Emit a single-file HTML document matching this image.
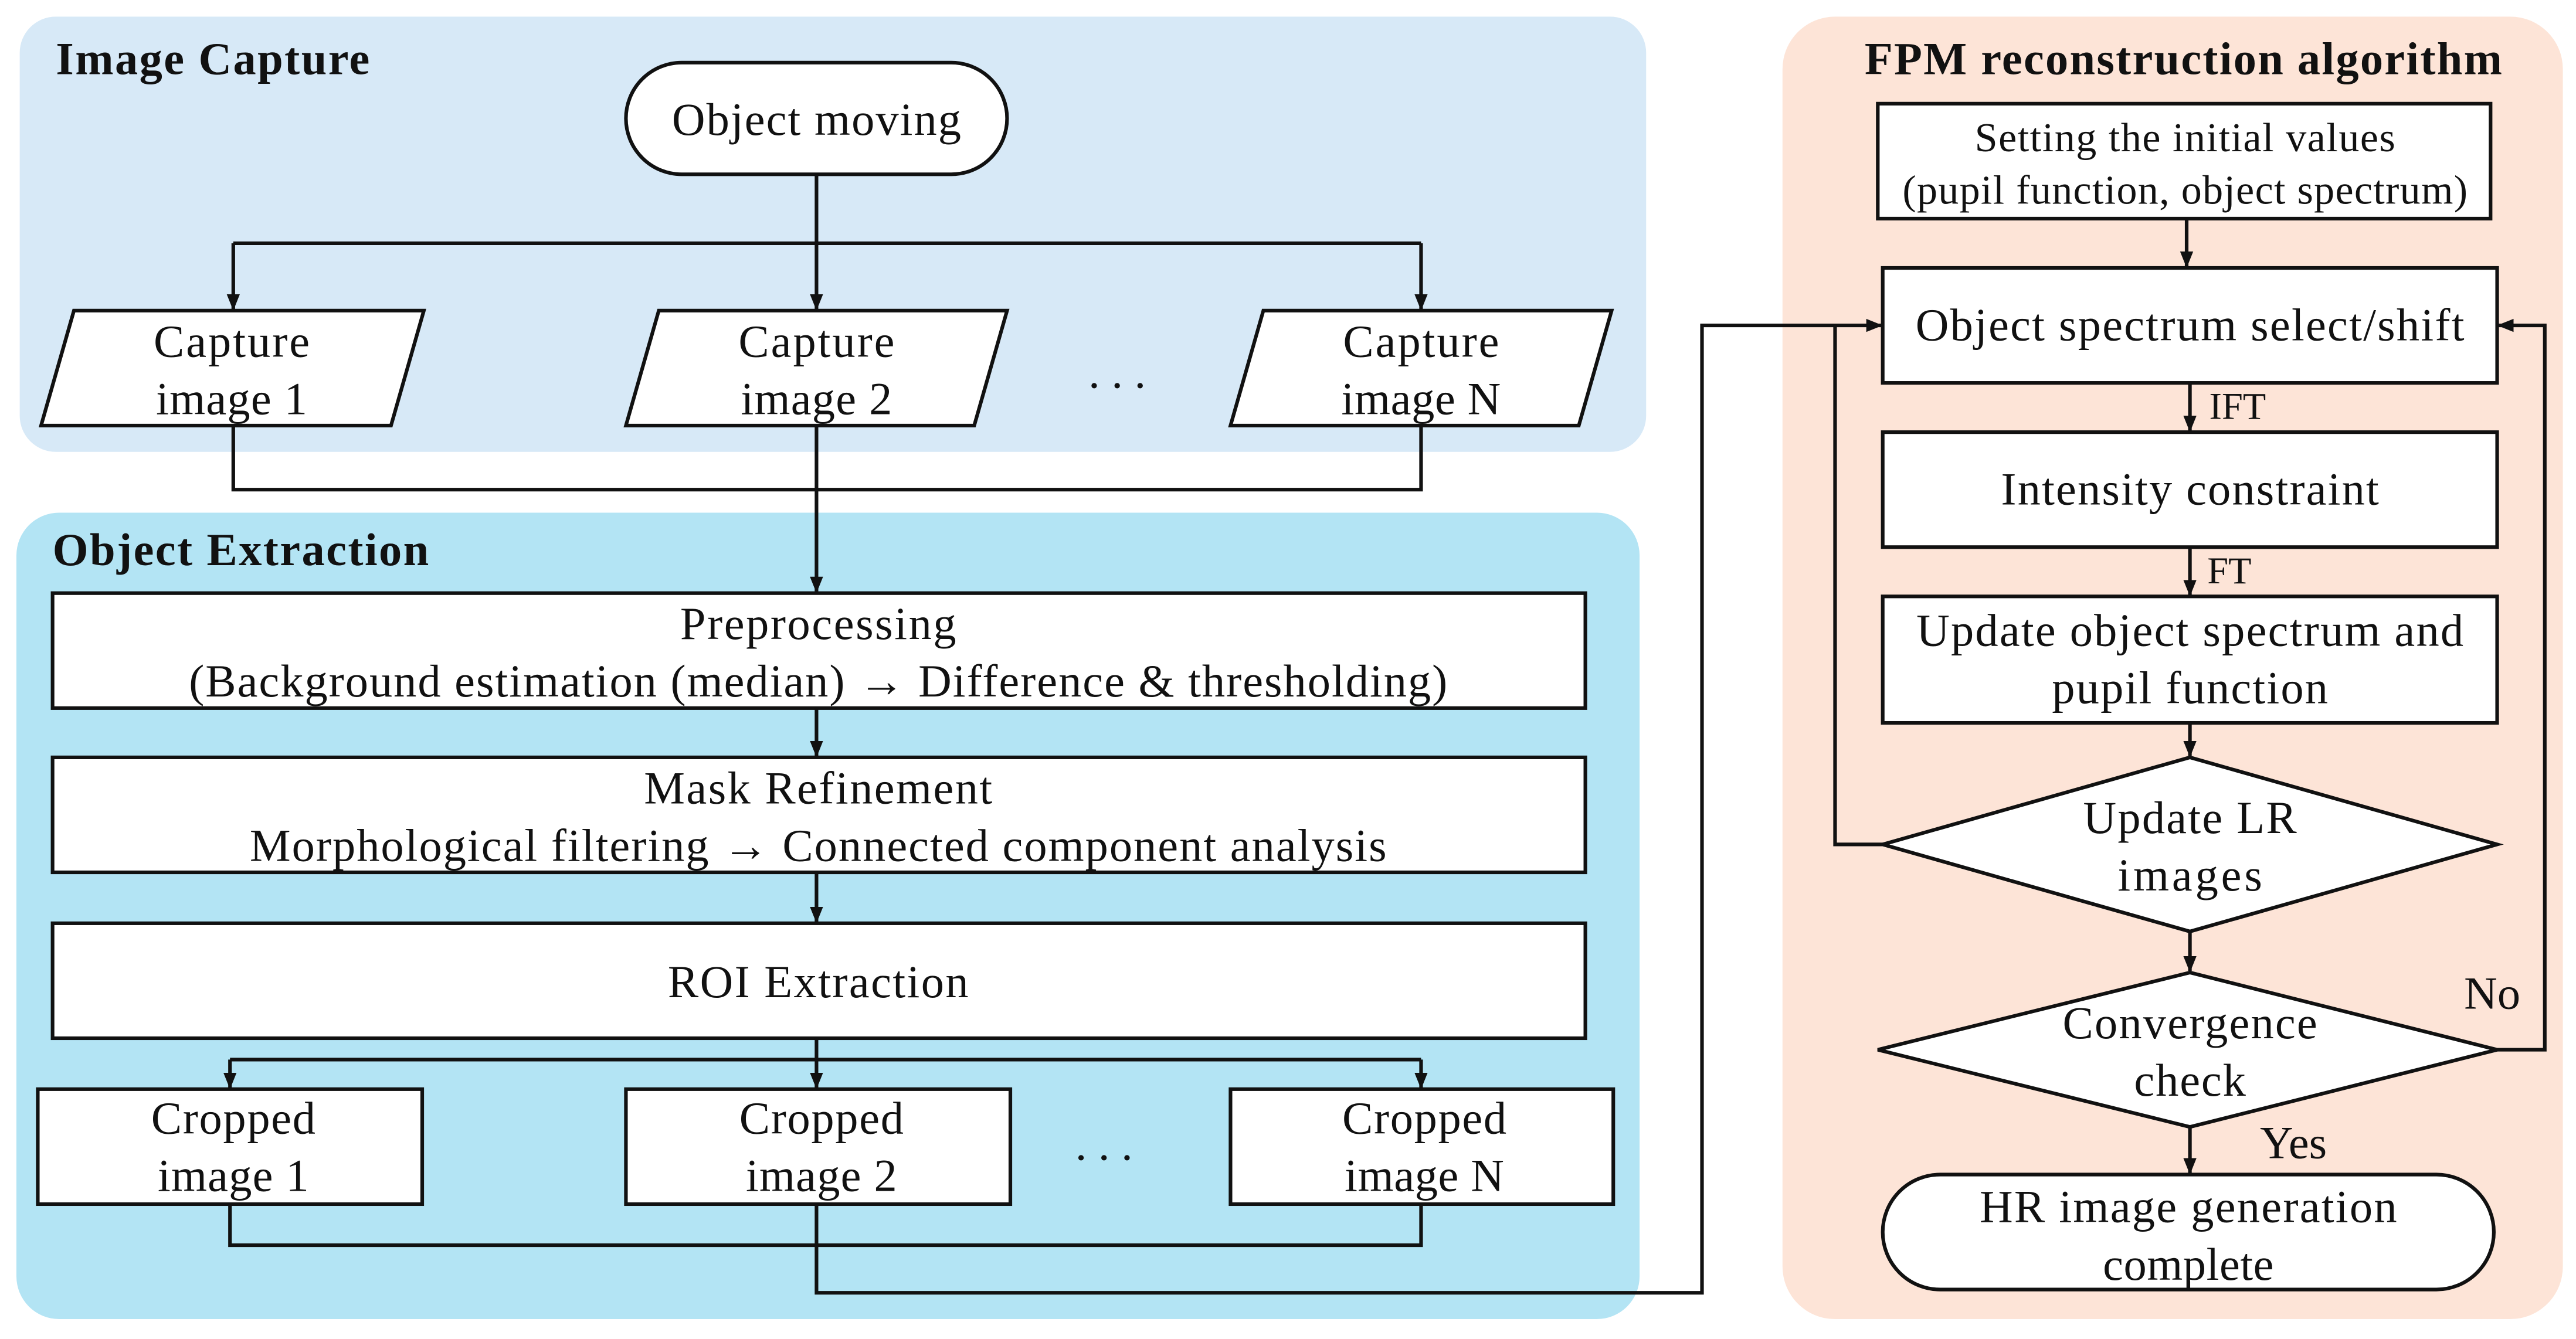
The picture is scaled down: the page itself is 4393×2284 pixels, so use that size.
<!DOCTYPE html>
<html><head><meta charset="utf-8"><style>
html,body{margin:0;padding:0;background:#fff;}
svg{display:block;}
text{font-family:"Liberation Serif","Times New Roman","DejaVu Serif",serif;font-size:28px;fill:#111;text-anchor:middle;}
.t{font-weight:bold;text-anchor:start;font-size:28px;}
</style></head><body>
<svg width="4393" height="2284" viewBox="0 0 1568 815" xmlns="http://www.w3.org/2000/svg" font-family="Liberation Serif, serif">
<defs><marker id="a" markerWidth="10" markerHeight="10" refX="9" refY="5" orient="auto" markerUnits="userSpaceOnUse"><path d="M0,1 L10,5 L0,9 z" fill="#111"/></marker></defs>
<rect x="0" y="0" width="1568" height="815" fill="#fff"/>
<rect x="12" y="10" width="990" height="265" rx="22" fill="#d7e9f7"/>
<rect x="10" y="312" width="988" height="491" rx="26" fill="#b3e4f4"/>
<rect x="1085" y="10" width="475" height="793" rx="32" fill="#fde4d7"/>
<text class="t" x="34" y="45" textLength="191">Image Capture</text>
<text class="t" x="32" y="344" textLength="229">Object Extraction</text>
<text x="1329" y="45" style="font-weight:bold" textLength="388">FPM reconstruction algorithm</text>
<g fill="#fff" stroke="#111" stroke-width="2.2">
<rect x="381" y="38" width="232" height="68" rx="34"/>
<path d="M45,189 L258,189 L238,259 L25,259 Z"/>
<path d="M401,189 L613,189 L593,259 L381,259 Z"/>
<path d="M769,189 L981,189 L961,259 L749,259 Z"/>
<rect x="32" y="361" width="933" height="70"/>
<rect x="32" y="461" width="933" height="70"/>
<rect x="32" y="562" width="933" height="70"/>
<rect x="23" y="663" width="234" height="70"/>
<rect x="381" y="663" width="234" height="70"/>
<rect x="749" y="663" width="233" height="70"/>
<rect x="1143" y="63" width="373" height="70"/>
<rect x="1146" y="163" width="374" height="70"/>
<rect x="1146" y="263" width="374" height="70"/>
<rect x="1146" y="363" width="374" height="77"/>
<path d="M1333,461 L1520,514 L1333,567 L1146,514 Z"/>
<path d="M1333,592 L1520,639 L1333,686 L1143,639 Z"/>
<rect x="1146" y="715" width="372" height="70" rx="35"/>
</g>
<g fill="none" stroke="#111" stroke-width="2.2">
<path d="M497,106 V148"/>
<path d="M142,148 H865"/>
<path d="M142,148 V188" marker-end="url(#a)"/>
<path d="M497,148 V188" marker-end="url(#a)"/>
<path d="M865,148 V188" marker-end="url(#a)"/>
<path d="M142,259 V298 H865 V259"/>
<path d="M497,259 V360" marker-end="url(#a)"/>
<path d="M497,431 V460" marker-end="url(#a)"/>
<path d="M497,531 V561" marker-end="url(#a)"/>
<path d="M497,632 V645"/>
<path d="M140,645 H865"/>
<path d="M140,645 V662" marker-end="url(#a)"/>
<path d="M497,645 V662" marker-end="url(#a)"/>
<path d="M865,645 V662" marker-end="url(#a)"/>
<path d="M140,733 V758 H865 V733"/>
<path d="M497,733 V787 H1036 V198 H1145" marker-end="url(#a)"/>
<path d="M1331,133 V162" marker-end="url(#a)"/>
<path d="M1333,233 V262" marker-end="url(#a)"/>
<path d="M1333,333 V362" marker-end="url(#a)"/>
<path d="M1333,440 V460" marker-end="url(#a)"/>
<path d="M1146,514 H1117 V198"/>
<path d="M1333,567 V591" marker-end="url(#a)"/>
<path d="M1520,639 H1549 V198 H1521" marker-end="url(#a)"/>
<path d="M1333,686 V714" marker-end="url(#a)"/>
</g>
<text x="497" y="82" textLength="176">Object moving</text>
<text x="141" y="217" textLength="95">Capture</text><text x="141" y="252" textLength="92">image 1</text>
<text x="497" y="217" textLength="95">Capture</text><text x="497" y="252" textLength="92">image 2</text>
<text x="865" y="217" textLength="95">Capture</text><text x="865" y="252" textLength="97">image N</text>
<text x="680" y="236">. . .</text>
<text x="498" y="389" textLength="168">Preprocessing</text>
<text x="498" y="424" textLength="766">(Background estimation (median) → Difference &amp; thresholding)</text>
<text x="498" y="489" textLength="212">Mask Refinement</text>
<text x="498" y="524" textLength="692">Morphological filtering → Connected component analysis</text>
<text x="498" y="607" textLength="183">ROI Extraction</text>
<text x="142" y="690" textLength="100">Cropped</text><text x="142" y="725" textLength="92">image 1</text>
<text x="500" y="690" textLength="100">Cropped</text><text x="500" y="725" textLength="92">image 2</text>
<text x="867" y="690" textLength="100">Cropped</text><text x="867" y="725" textLength="97">image N</text>
<text x="672" y="706">. . .</text>
<text x="1330" y="92" style="font-size:25px" textLength="256">Setting the initial values</text>
<text x="1330" y="124" style="font-size:25px" textLength="344">(pupil function, object spectrum)</text>
<text x="1333" y="207" textLength="334">Object spectrum select/shift</text>
<text x="1362" y="255" style="font-size:23px">IFT</text>
<text x="1333" y="307" textLength="230">Intensity constraint</text>
<text x="1357" y="355" style="font-size:23px">FT</text>
<text x="1333" y="393" textLength="333">Update object spectrum and</text>
<text x="1333" y="428" textLength="168">pupil function</text>
<text x="1333" y="507" textLength="130">Update LR</text>
<text x="1333" y="542" textLength="88">images</text>
<text x="1333" y="632" textLength="155">Convergence</text>
<text x="1333" y="667" textLength="68">check</text>
<text x="1517" y="614">No</text>
<text x="1396" y="705">Yes</text>
<text x="1332" y="744" textLength="254">HR image generation</text>
<text x="1332" y="779" textLength="104">complete</text>
</svg>
</body></html>
